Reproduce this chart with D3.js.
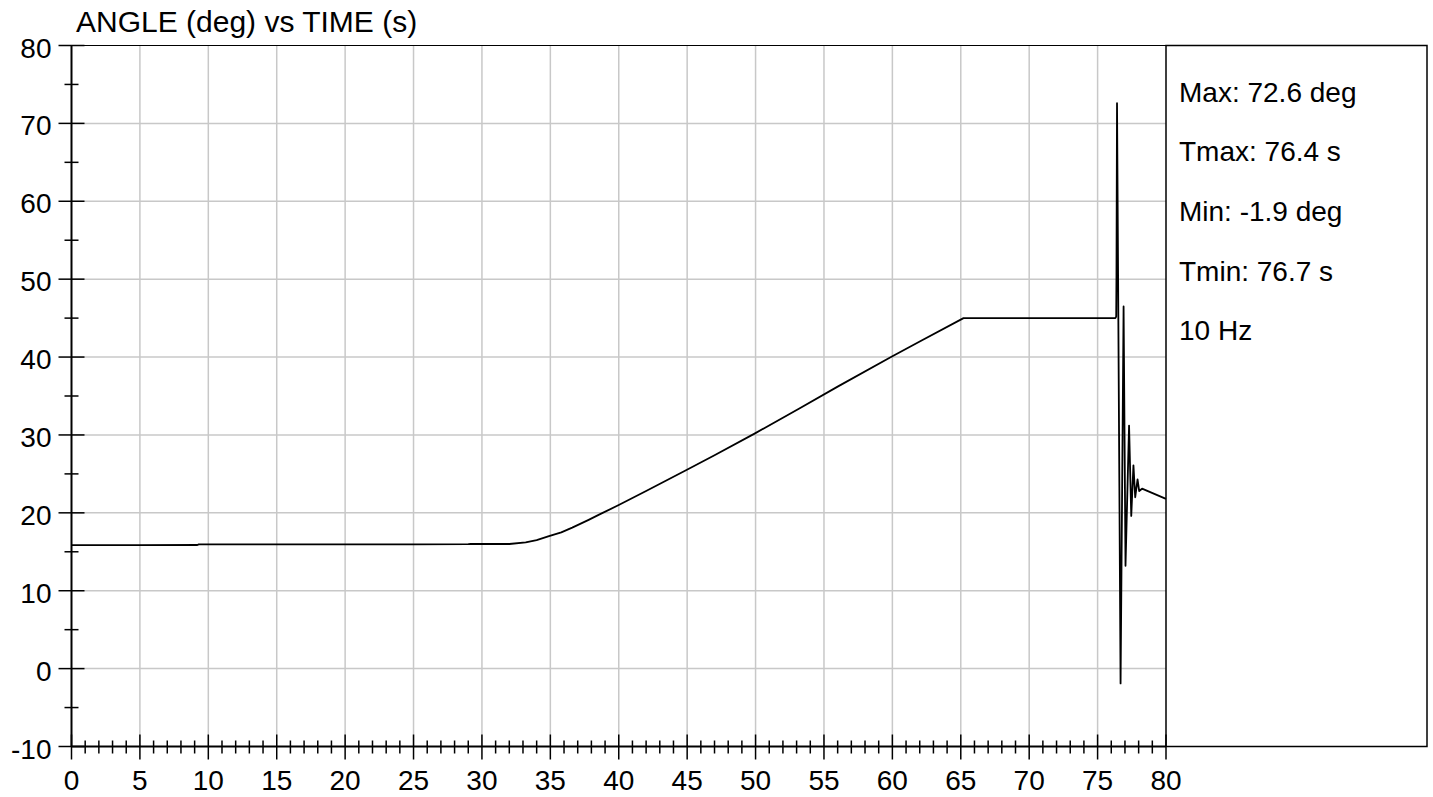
<!DOCTYPE html>
<html>
<head>
<meta charset="utf-8">
<script src="https://cdn.jsdelivr.net/npm/d3@7"></script>
<style>
  body { margin: 0; background: #fff; }
  text { font-family: "Liberation Sans", Arial, sans-serif; fill: #000; }
</style>
</head>
<body>
<div class="chart"></div>
<script>
// Angle vs time trace
let timeS = [0, 5, 9.2, 9.3, 15, 20, 25, 29.0, 29.2, 32.0, 33.2, 34.0, 34.9, 35.8, 36.6, 37.8,
  38.6, 40, 42, 44.95, 47, 49.96, 53.2, 56, 59.9, 62, 65.2, 65.3, 70, 76.3, 76.36,
  76.38, 76.42, 76.68, 76.9, 77.04, 77.3, 77.46, 77.62, 77.75, 77.92, 78.04, 78.25, 80];
let angleDeg = [15.85, 15.85, 15.87, 15.95, 15.95, 15.95, 15.96, 15.97, 16.02, 16.0, 16.2, 16.5, 17.0, 17.5, 18.1, 19.1,
  19.8, 21.0, 22.8, 25.5, 27.4, 30.2, 33.4, 36.2, 40.0, 42.0, 45.0, 45.0, 45.0, 45.0, 45.2,
  50.5, 72.6, -1.9, 46.5, 13.2, 31.2, 19.6, 26.1, 22.0, 24.3, 22.8, 23.1, 21.8];

let xTicks = d3.range(0, 81, 5);
let xMinor = d3.range(0, 81, 1).filter(d => d % 5 !== 0);
let yTicks = d3.range(-10, 81, 10);
let yMinor = d3.range(-5, 80, 10);

let title = "ANGLE (deg) vs TIME (s)";
let stats = ["Max: 72.6 deg", "Tmax: 76.4 s", "Min: -1.9 deg", "Tmin: 76.7 s", "10 Hz"];

let svgWidth = 1433;
let svgHeight = 797;
let margin = { top: 45.5, left: 71.5, right: 267, bottom: 50.5 };
let width = svgWidth - margin.left - margin.right;   // 80 s
let height = svgHeight - margin.top - margin.bottom; // 90 deg

let svg = d3.select(".chart").append("svg")
  .attr("width", svgWidth)
  .attr("height", svgHeight);

let chartGroup = svg.append("g")
  .attr("transform", `translate(${margin.left}, ${margin.top})`);

let xScale = d3.scaleLinear().domain([0, 80]).range([0, width]);
let yScale = d3.scaleLinear().domain([-10, 80]).range([height, 0]);

// grid
chartGroup.selectAll(".vgrid")
  .data(xTicks.filter(d => d > 0 && d < 80))
  .enter().append("line")
  .attr("x1", d => xScale(d)).attr("x2", d => xScale(d))
  .attr("y1", 0).attr("y2", height)
  .attr("stroke", "#c8c8c8").attr("stroke-width", 1.5);

chartGroup.selectAll(".hgrid")
  .data(yTicks.filter(d => d > -10 && d < 80))
  .enter().append("line")
  .attr("x1", 0).attr("x2", width)
  .attr("y1", d => yScale(d)).attr("y2", d => yScale(d))
  .attr("stroke", "#c8c8c8").attr("stroke-width", 1.5);

// top frame
chartGroup.append("line")
  .attr("x1", 0).attr("x2", width).attr("y1", 0).attr("y2", 0)
  .attr("stroke", "#000").attr("stroke-width", 1);

// data line
let line = d3.line()
  .x((d, i) => xScale(timeS[i]))
  .y(d => yScale(d));

chartGroup.append("path")
  .datum(angleDeg)
  .attr("d", line)
  .attr("fill", "none")
  .attr("stroke", "#000")
  .attr("stroke-width", 1.8)
  .attr("stroke-linejoin", "round");

// axes lines
chartGroup.append("line")
  .attr("x1", 0).attr("x2", 0).attr("y1", 0).attr("y2", height)
  .attr("stroke", "#000").attr("stroke-width", 2);
chartGroup.append("line")
  .attr("x1", 0).attr("x2", width).attr("y1", height).attr("y2", height)
  .attr("stroke", "#000").attr("stroke-width", 2);

// x ticks crossing the axis
chartGroup.selectAll(".xmaj")
  .data(xTicks)
  .enter().append("line")
  .attr("x1", d => xScale(d)).attr("x2", d => xScale(d))
  .attr("y1", height - 12).attr("y2", height + 13)
  .attr("stroke", "#000").attr("stroke-width", 1.5);
chartGroup.selectAll(".xmin")
  .data(xMinor)
  .enter().append("line")
  .attr("x1", d => xScale(d)).attr("x2", d => xScale(d))
  .attr("y1", height - 6).attr("y2", height + 7)
  .attr("stroke", "#000").attr("stroke-width", 1.5);

// y ticks crossing the axis
chartGroup.selectAll(".ymaj")
  .data(yTicks)
  .enter().append("line")
  .attr("x1", -13).attr("x2", 13)
  .attr("y1", d => yScale(d)).attr("y2", d => yScale(d))
  .attr("stroke", "#000").attr("stroke-width", 1.5);
chartGroup.selectAll(".ymin")
  .data(yMinor)
  .enter().append("line")
  .attr("x1", -7).attr("x2", 7)
  .attr("y1", d => yScale(d)).attr("y2", d => yScale(d))
  .attr("stroke", "#000").attr("stroke-width", 1.5);

// tick labels
chartGroup.selectAll(".xlab")
  .data(xTicks)
  .enter().append("text")
  .attr("x", d => xScale(d))
  .attr("y", height + 43.5)
  .attr("text-anchor", "middle")
  .attr("font-size", 28)
  .text(d => d);

chartGroup.selectAll(".ylab")
  .data(yTicks)
  .enter().append("text")
  .attr("x", -20)
  .attr("y", d => yScale(d) + 12)
  .attr("text-anchor", "end")
  .attr("font-size", 28)
  .text(d => d);

// title
svg.append("text")
  .attr("x", 76).attr("y", 32)
  .attr("font-size", 30)
  .text(title);

// stats box on the right
svg.append("rect")
  .attr("x", margin.left + width).attr("y", margin.top)
  .attr("width", 261).attr("height", height)
  .attr("fill", "none").attr("stroke", "#000").attr("stroke-width", 1.5);

svg.selectAll(".stat")
  .data(stats)
  .enter().append("text")
  .attr("x", 1179)
  .attr("y", (d, i) => 101.5 + i * 59.7)
  .attr("font-size", 28)
  .text(d => d);
</script>
</body>
</html>
